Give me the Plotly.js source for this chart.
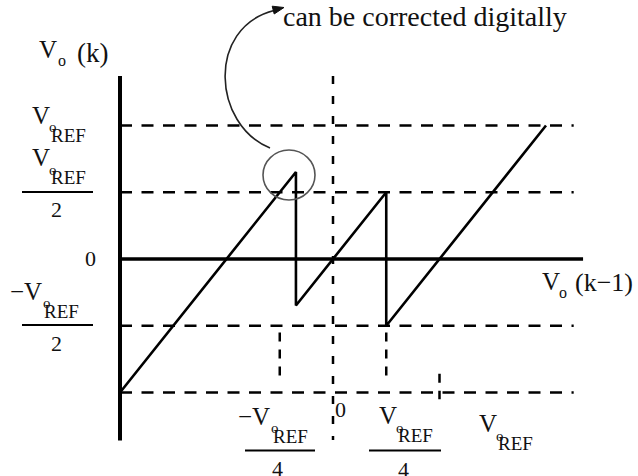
<!DOCTYPE html>
<html>
<head>
<meta charset="utf-8">
<script src="https://cdn.plot.ly/plotly-3.0.1.min.js"></script>
<style>
  html, body { margin: 0; padding: 0; background: #fff; }
  #plot { width: 638px; height: 476px; }
</style>
</head>
<body>
<div id="plot"></div>
<script>
// Residue transfer curve of a 1.5-bit pipeline stage, in units of VREF.
const residueX = [-1, -0.174, -0.174, 0.25, 0.25, 1];
const residueY = [-1, 0.652, -0.348, 0.5, -0.5, 1];

// Horizontal reference levels (dashed) and the zero axis
const refLevels = [1, 0.5, -0.5, -1];
// Vertical guide marks on the input axis: [x, yFrom, yTo]
const guideX = [-0.25, 0.25, 0.5];
const guideFrom = [-0.55, -0.55, -0.86];
const guideTo = [-0.93, -0.93, -1.05];

const W = 638, H = 476;
const SERIF = '"Liberation Serif", "Times New Roman", Times, serif';
const INK = '#111';

// pixel -> paper helpers for the free-standing labels
const pxX = p => p / W;
const pxY = p => 1 - p / H;

function label(text, x, y, size, anchor) {
  return {
    xref: 'paper', yref: 'paper', x: pxX(x), y: pxY(y),
    text: text, showarrow: false,
    xanchor: anchor || 'center', yanchor: 'middle',
    font: { family: SERIF, size: size, color: INK }
  };
}

// A "V REF" stack: capital V, subscripted REF with the small o over its R
function vref(vx, vy, minus) {
  return [
    label(minus ? '−V' : 'V', minus ? vx + 9 : vx, vy, 25, minus ? 'right' : 'center'),
    label('REF', vx + 27, vy + 20, 19),
    label('o', vx + 12, vy + 12, 15)
  ];
}

const annotations = [];
// vertical-axis labels
annotations.push(...vref(41, 115));
annotations.push(...vref(41, 157.5));
annotations.push(label('2', 56, 209.5, 22));
annotations.push(label('0', 90.5, 258.5, 22));
annotations.push(...vref(35, 291, true));
annotations.push(label('2', 56, 343, 22));
// horizontal-axis labels
annotations.push(...vref(263, 416, true));
annotations.push(label('4', 277, 468, 22));
annotations.push(label('0', 340.5, 409, 22));
annotations.push(...vref(388, 415.5));
annotations.push(label('4', 403, 469, 22));
annotations.push(...vref(488, 423.5));
// axis titles
annotations.push(label('V', 48.5, 49.5, 25));
annotations.push(label('o', 62, 60, 16));
annotations.push(label('(k)', 92.5, 53, 27));
annotations.push(label('V', 551, 281, 25));
annotations.push(label('o', 563, 292, 16));
annotations.push(label('(k−1)', 604, 282.5, 26));
// note
annotations.push(label('can be corrected digitally', 281, 17, 28, 'left'));

const shapes = [];
const solid = (w) => ({ color: '#000', width: w });
// axes
shapes.push({ type: 'line', xref: 'x', yref: 'y', x0: -1, x1: -1, y0: -1.36, y1: 1.37, line: solid(4) });
shapes.push({ type: 'line', xref: 'x', yref: 'y', x0: -1, x1: 1.174, y0: 0, y1: 0, line: solid(3.5) });
// dashed reference levels
refLevels.forEach(v => shapes.push({
  type: 'line', xref: 'x', yref: 'y', x0: -1, x1: 1.13, y0: v, y1: v,
  line: { color: '#000', width: 2.5, dash: '12px,9.5px' }
}));
// dashed zero line of the input axis
shapes.push({ type: 'line', xref: 'x', yref: 'y', x0: 0, x1: 0, y0: 1.37, y1: -1.356,
  line: { color: '#000', width: 2.5, dash: '8px,12px' } });
guideX.forEach((gx, i) => shapes.push({
  type: 'line', xref: 'x', yref: 'y', x0: gx, x1: gx, y0: guideFrom[i], y1: guideTo[i],
  line: { color: '#000', width: 2.5, dash: '9px,8px' }
}));
// fraction bars
const bars = [[22, 93, 192], [22, 93, 325], [245, 315, 450.5], [369, 441, 450.5]];
bars.forEach(b => shapes.push({
  type: 'line', xref: 'paper', yref: 'paper', x0: pxX(b[0]), x1: pxX(b[1]), y0: pxY(b[2]), y1: pxY(b[2]),
  line: solid(2)
}));
// circle around the overshoot
shapes.push({ type: 'circle', xref: 'paper', yref: 'paper',
  x0: pxX(263), x1: pxX(315), y0: pxY(150), y1: pxY(200),
  line: { color: '#555', width: 1.6 } });
// curved pointer to the note
const P = (x, y) => pxX(x).toFixed(5) + ',' + pxY(y).toFixed(5);
shapes.push({ type: 'path', xref: 'paper', yref: 'paper',
  path: 'M' + P(270, 148) + ' C' + P(213, 125) + ' ' + P(206, 28) + ' ' + P(274, 10.5),
  line: { color: '#222', width: 1.6 } });
shapes.push({ type: 'path', xref: 'paper', yref: 'paper',
  path: 'M' + P(284, 7.5) + ' L' + P(274.2, 14) + ' L' + P(272.2, 6.2) + ' Z',
  fillcolor: '#111', line: { color: '#111', width: 1 } });

const data = [{
  x: residueX, y: residueY, type: 'scatter', mode: 'lines',
  line: { color: '#000', width: 2.6 }, hoverinfo: 'skip'
}];

const layout = {
  width: W, height: H,
  margin: { l: 0, r: 0, t: 0, b: 0 },
  paper_bgcolor: '#fff', plot_bgcolor: '#fff',
  showlegend: false,
  xaxis: { range: [-333 / 213, 305 / 213], visible: false, fixedrange: true },
  yaxis: { range: [-217 / 133.5, 259 / 133.5], visible: false, fixedrange: true },
  shapes: shapes,
  annotations: annotations
};

Plotly.newPlot('plot', data, layout, { staticPlot: true, displayModeBar: false });
</script>
</body>
</html>
